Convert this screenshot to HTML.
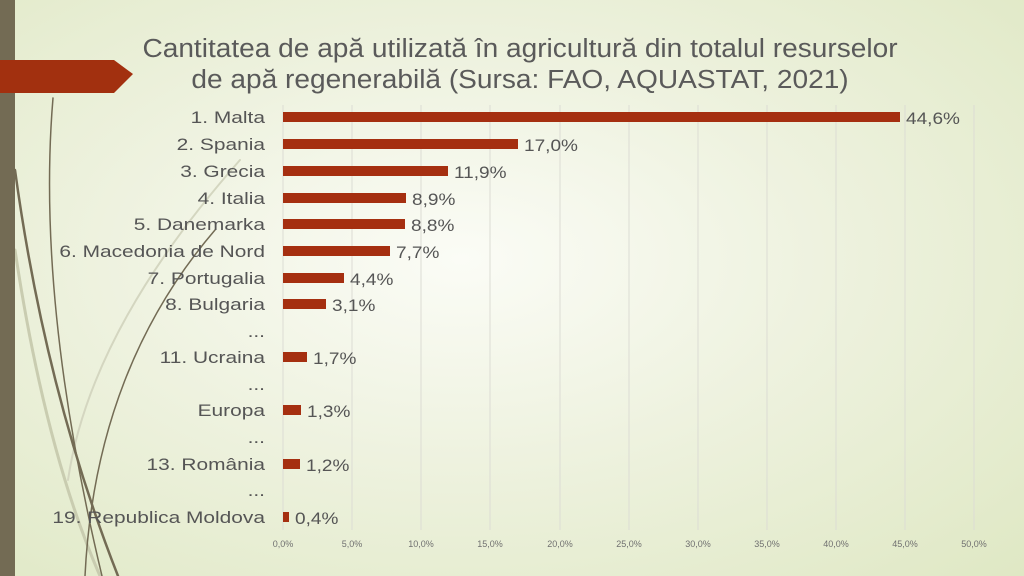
<!DOCTYPE html>
<html><head><meta charset="utf-8"><style>
html,body{margin:0;padding:0;}
body{width:1024px;height:576px;overflow:hidden;background:radial-gradient(ellipse at 45% 45%,#fbfcf6 0%,#eef2df 45%,#dfe8c4 100%);font-family:"Liberation Sans",sans-serif;}
</style></head><body>
<svg width="1024" height="576" xmlns="http://www.w3.org/2000/svg" style="position:absolute;left:0;top:0">
<g fill="none" stroke-linecap="round">
<path d="M15 250 Q45 450 100 576" stroke="#c9ccb0" stroke-width="3"/>
<path d="M240 160 Q90 330 68 480" stroke="#d4d6c0" stroke-width="2"/>
<path d="M53 98 Q36 300 102 576" stroke="#736b54" stroke-width="1.5"/>
<path d="M15 170 Q45 390 118 576" stroke="#736b54" stroke-width="2.5"/>
<path d="M215 230 Q95 370 85 576" stroke="#736b54" stroke-width="1.5"/>
</g>
<rect x="0" y="0" width="15" height="576" fill="#736b54"/>
<polygon points="0,60 114,60 133,74 114,93 0,93" fill="#a2300f"/>
<g transform="translate(520,0) scale(1.08,1)" font-size="26" fill="#5a5a5a" text-anchor="middle">
<text x="0" y="57">Cantitatea de apă utilizată în agricultură din totalul resurselor</text>
<text x="0" y="88">de apă regenerabilă (Sursa: FAO, AQUASTAT, 2021)</text>
</g>
<g stroke="#dcdcd4" stroke-width="1">
<line x1="283" y1="105" x2="283" y2="530"/><line x1="352" y1="105" x2="352" y2="530"/><line x1="421" y1="105" x2="421" y2="530"/><line x1="490" y1="105" x2="490" y2="530"/><line x1="560" y1="105" x2="560" y2="530"/><line x1="629" y1="105" x2="629" y2="530"/><line x1="698" y1="105" x2="698" y2="530"/><line x1="767" y1="105" x2="767" y2="530"/><line x1="836" y1="105" x2="836" y2="530"/><line x1="905" y1="105" x2="905" y2="530"/><line x1="974" y1="105" x2="974" y2="530"/>
</g>
<g font-size="9" fill="#707070" text-anchor="middle">
<text x="283" y="547">0,0%</text><text x="352" y="547">5,0%</text><text x="421" y="547">10,0%</text><text x="490" y="547">15,0%</text><text x="560" y="547">20,0%</text><text x="629" y="547">25,0%</text><text x="698" y="547">30,0%</text><text x="767" y="547">35,0%</text><text x="836" y="547">40,0%</text><text x="905" y="547">45,0%</text><text x="974" y="547">50,0%</text>
</g>
<g transform="translate(265,0) scale(1.23,1)" font-size="17" fill="#555" text-anchor="end">
<text x="0" y="123">1. Malta</text><text x="0" y="150">2. Spania</text><text x="0" y="177">3. Grecia</text><text x="0" y="204">4. Italia</text><text x="0" y="230">5. Danemarka</text><text x="0" y="257">6. Macedonia de Nord</text><text x="0" y="284">7. Portugalia</text><text x="0" y="310">8. Bulgaria</text><text x="0" y="337">...</text><text x="0" y="363">11. Ucraina</text><text x="0" y="390">...</text><text x="0" y="416">Europa</text><text x="0" y="443">...</text><text x="0" y="470">13. România</text><text x="0" y="496">...</text><text x="0" y="523">19. Republica Moldova</text>
</g>
<g fill="#a52f10">
<rect x="283" y="112" width="617" height="10"/><rect x="283" y="139" width="235" height="10"/><rect x="283" y="166" width="165" height="10"/><rect x="283" y="193" width="123" height="10"/><rect x="283" y="219" width="122" height="10"/><rect x="283" y="246" width="107" height="10"/><rect x="283" y="273" width="61" height="10"/><rect x="283" y="299" width="43" height="10"/><rect x="283" y="352" width="24" height="10"/><rect x="283" y="405" width="18" height="10"/><rect x="283" y="459" width="17" height="10"/><rect x="283" y="512" width="6" height="10"/>
</g>
<g font-size="17" fill="#555">
<text transform="translate(906,124) scale(1.12,1)">44,6%</text><text transform="translate(524,151) scale(1.12,1)">17,0%</text><text transform="translate(454,178) scale(1.12,1)">11,9%</text><text transform="translate(412,205) scale(1.12,1)">8,9%</text><text transform="translate(411,231) scale(1.12,1)">8,8%</text><text transform="translate(396,258) scale(1.12,1)">7,7%</text><text transform="translate(350,285) scale(1.12,1)">4,4%</text><text transform="translate(332,311) scale(1.12,1)">3,1%</text><text transform="translate(313,364) scale(1.12,1)">1,7%</text><text transform="translate(307,417) scale(1.12,1)">1,3%</text><text transform="translate(306,471) scale(1.12,1)">1,2%</text><text transform="translate(295,524) scale(1.12,1)">0,4%</text>
</g>
</svg>
</body></html>
